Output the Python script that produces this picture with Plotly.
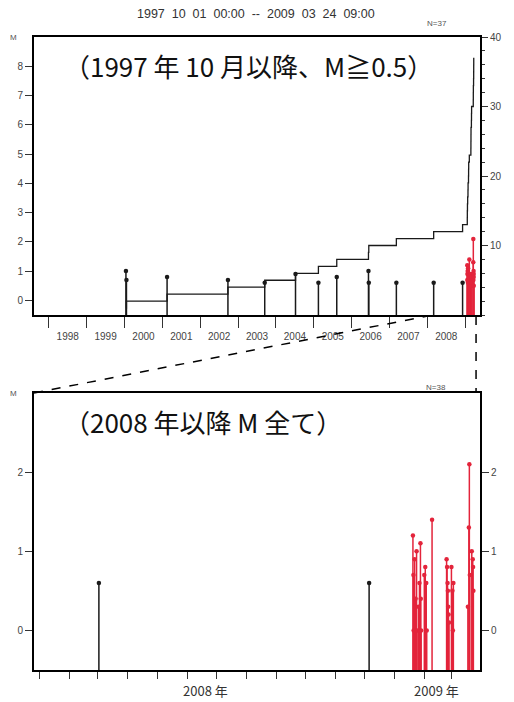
import plotly.graph_objects as go

# ---------------- data ----------------
# events before 2009 (M >= 0.5 shown in upper panel)
pre_dates = ["2000-01-15", "2000-01-20", "2001-02-15", "2002-09-25", "2003-09-15",
             "2004-07-08", "2005-02-14", "2005-08-10", "2006-06-12", "2006-06-15",
             "2007-03-08", "2008-03-02", "2008-12-06"]
pre_mag = [1.0, 0.7, 0.8, 0.7, 0.6, 0.9, 0.6, 0.8, 1.0, 0.6, 0.6, 0.6, 0.6]

# events in 2009 (red)
red_dates = ["2009-01-20 06:00", "2009-01-20 18:00", "2009-01-21 00:00", "2009-01-22 00:00",
             "2009-01-23 00:00", "2009-01-24 00:00", "2009-01-24 12:00", "2009-01-26 00:00",
             "2009-01-27 00:00", "2009-01-28 00:00", "2009-01-28 08:00", "2009-01-28 16:00",
             "2009-02-01 00:00", "2009-02-02 00:00", "2009-02-03 00:00", "2009-02-03 12:00",
             "2009-02-09 00:00", "2009-02-24 00:00", "2009-02-24 12:00", "2009-02-25 00:00",
             "2009-02-25 08:00", "2009-02-25 16:00", "2009-02-26 00:00", "2009-02-26 12:00",
             "2009-03-01 00:00", "2009-03-02 00:00", "2009-03-02 12:00", "2009-03-03 00:00",
             "2009-03-18 00:00", "2009-03-19 00:00", "2009-03-19 12:00", "2009-03-20 00:00",
             "2009-03-22 00:00", "2009-03-23 00:00", "2009-03-23 08:00", "2009-03-23 16:00"]
red_mag = [1.2, 0.7, 0.0, 0.9,
           0.4, 1.0, 0.0, 0.3,
           0.6, 1.1, 0.4, 0.0,
           0.7, 0.8, 0.6, 0.0,
           1.4, 0.9, 0.8, 0.6,
           0.5, 0.3, 0.2, 0.1,
           0.8, 0.5, 0.0, 0.6,
           0.3, 1.3, 2.1, 0.7,
           1.0, 0.9, 0.8, 0.5]

top_range = ["1997-08-11", "2009-05-23"]
bot_range = ["2007-12-26", "2009-03-30 12:00"]
m_floor = -0.5
top_m_ticks = [0, 1, 2, 3, 4, 5, 6, 7, 8]
top_n_ticks = [10, 20, 30, 40]
bot_m_ticks = [0, 1, 2]

BLACK = "#1a1a1a"
RED = "#e3243b"

# ---------------- helpers ----------------
def stems(dates, mags):
    xs, ys = [], []
    for d, m in zip(dates, mags):
        xs += [d, d, None]
        ys += [m_floor, m, None]
    return xs, ys

# upper panel: M >= 0.5
top_pre = [(d, m) for d, m in zip(pre_dates, pre_mag) if m >= 0.5]
top_red = [(d, m) for d, m in zip(red_dates, red_mag) if m >= 0.5]
all_top = sorted(top_pre + top_red, key=lambda t: t[0])
cum_x = [d for d, _ in all_top]
cum_y = list(range(1, len(all_top) + 1))

# lower panel: all since 2008
bot_pre = [(d, m) for d, m in zip(pre_dates, pre_mag) if d >= "2008-01-01"]
bot_red = list(zip(red_dates, red_mag))
n_bot = len(bot_pre) + len(bot_red)

fig = go.Figure()

for data, col, xa, ya, ya_mk in [(top_pre, BLACK, "x", "y", "y"), (top_red, RED, "x", "y", "y"),
                                 (bot_pre, BLACK, "x2", "y3", "y4"), (bot_red, RED, "x2", "y3", "y4")]:
    ds = [d for d, _ in data]
    ms = [m for _, m in data]
    sx, sy = stems(ds, ms)
    fig.add_trace(go.Scatter(x=sx, y=sy, mode="lines", line=dict(color=col, width=1.5),
                             xaxis=xa, yaxis=ya, showlegend=False, hoverinfo="skip"))
    fig.add_trace(go.Scatter(x=ds, y=ms, mode="markers", marker=dict(color=col, size=4.5),
                             xaxis=xa, yaxis=ya_mk, showlegend=False))

fig.add_trace(go.Scatter(x=cum_x, y=cum_y, mode="lines", line=dict(color=BLACK, width=1.3, shape="hv"),
                         xaxis="x", yaxis="y2", showlegend=False))

# ---------------- layout ----------------
W, H = 514, 702
L, R, T, B = 34, 28, 37, 32
PH = H - T - B
PW = W - L - R

def py(p):
    return (H - B - p) / PH

def px(p):
    return (p - L) / PW

tickfont = dict(family="Liberation Sans, Arial, sans-serif", size=10, color="#444")
axline = dict(showline=True, linecolor="black", linewidth=2, showgrid=False, zeroline=False)

fig.update_layout(
    width=W, height=H, margin=dict(l=L, r=R, t=T, b=B),
    paper_bgcolor="white", plot_bgcolor="white",
    xaxis=dict(domain=[0, 1], anchor="y", type="date", range=top_range,
               dtick="M12", tick0="1998-01-01", ticklabelmode="period", tickformat="%Y",
               ticks="outside", ticklen=11, tickwidth=1.2, tickcolor="#333",
               mirror=True, tickfont=tickfont, **axline),
    yaxis=dict(domain=[py(315), 1], anchor="x", range=[m_floor, 9], tickvals=top_m_ticks,
               ticks="outside", ticklen=7, tickwidth=1.2, tickcolor="#333", tickfont=tickfont,
               **axline),
    yaxis2=dict(overlaying="y", side="right", anchor="x", range=[0, 40], tickvals=top_n_ticks,
                ticks="outside", ticklen=6, tickwidth=1.2, tickcolor="#333", tickfont=tickfont,
                minor=dict(dtick=2, tick0=0, ticks="outside", ticklen=3, tickcolor="#333"),
                **axline),
    xaxis2=dict(domain=[0, 1], anchor="y3", type="date", range=bot_range,
                dtick="M1", tick0="2008-01-01", ticks="outside", ticklen=7, tickwidth=1.2,
                tickcolor="#333", showticklabels=False, mirror=True, **axline),
    yaxis3=dict(domain=[0, py(393)], anchor="x2", range=[m_floor, 3], tickvals=bot_m_ticks,
                ticks="outside", ticklen=7, tickwidth=1.2, tickcolor="#333", tickfont=tickfont,
                **axline),
    yaxis4=dict(overlaying="y3", side="right", anchor="x2", range=[m_floor, 3], tickvals=bot_m_ticks,
                ticks="outside", ticklen=7, tickwidth=1.2, tickcolor="#333", tickfont=tickfont,
                **axline),
)

small = dict(family="Liberation Sans, Arial, sans-serif", size=8, color="#555")
jp = dict(family="Noto Sans CJK JP", size=26, color="#111")
sp = "\u00a0\u00a0"
title_txt = sp.join(["1997", "10", "01", "00:00", "--", "2009", "03", "24", "09:00"])

ann = [
    dict(x=px(259), y=py(14), text=title_txt,
         font=dict(family="Liberation Sans, Arial, sans-serif", size=12.5, color="#333")),
    dict(x=px(442), y=py(24), text=f"N={len(all_top)}", font=small),
    dict(x=px(441), y=py(387), text=f"N={n_bot}", font=small),
    dict(x=px(13), y=py(37), text="M", font=small),
    dict(x=px(13), y=py(393), text="M", font=small),
    dict(x=px(62), y=py(65), text="（1997 年 10 月以降、M≧0.5）", font=jp, xanchor="left"),
    dict(x=px(62), y=py(421), text="（2008 年以降 M 全て）", font=jp, xanchor="left"),
    dict(x="2008-06-20", xref="x2", y=py(690), text="2008 年",
         font=dict(family="Noto Sans CJK JP", size=13, color="#333")),
    dict(x="2009-02-14", xref="x2", y=py(690), text="2009 年",
         font=dict(family="Noto Sans CJK JP", size=13, color="#333")),
]
for a in ann:
    a.setdefault("xref", "paper")
    a.setdefault("yref", "paper")
    a.setdefault("showarrow", False)
    a.setdefault("xanchor", "center")
    a.setdefault("yanchor", "middle")
fig.update_layout(annotations=ann)

dash = dict(color="black", width=1.5, dash="dash")
fig.update_layout(shapes=[
    dict(type="line", xref="paper", yref="paper", x0=px(34), y0=py(393), x1=px(433), y1=py(316), line=dash),
    dict(type="line", xref="paper", yref="paper", x0=px(482), y0=py(316), x1=px(482), y1=py(393), line=dash),
])

fig.write_html("out.html")
